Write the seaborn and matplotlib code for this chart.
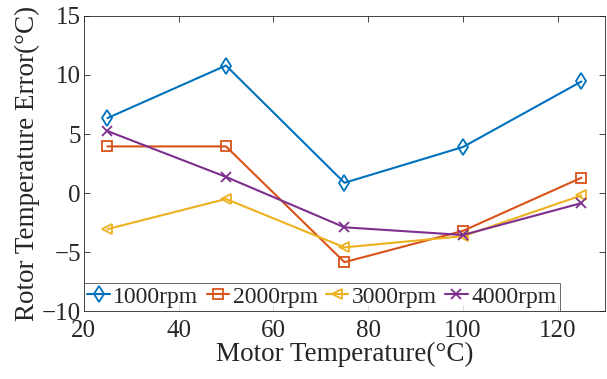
import numpy as np
import pandas as pd
import matplotlib
matplotlib.use("Agg")
import matplotlib.pyplot as plt
import seaborn as sns

motor_temp = [25, 50, 75, 100, 125]
err_1000 = [6.35, 10.8, 0.87, 3.9, 9.45]
err_2000 = [3.95, 3.95, -5.85, -3.2, 1.3]
err_3000 = [-3.05, -0.5, -4.6, -3.65, -0.2]
err_4000 = [5.25, 1.37, -2.9, -3.55, -0.85]
series_names = ["1000rpm", "2000rpm", "3000rpm", "4000rpm"]
colors = ["#0072BD", "#D95319", "#EDB120", "#7E2F8E"]
markers = ["d", "s", "<", "x"]
marker_sizes = [8.5, 6.5, 7.5, 7]

sns.set_style("ticks")
plt.rcParams["font.family"] = ["Liberation Serif", "DejaVu Serif"]
plt.rcParams["mathtext.fontset"] = "stix"

fig = plt.figure(figsize=(6.07, 3.79), dpi=100)
ax = fig.add_axes([0.138, 0.179, 0.859, 0.779])

all_series = [err_1000, err_2000, err_3000, err_4000]
for name, vals, c, m in zip(series_names, all_series, colors, markers):
    df = pd.DataFrame({"x": motor_temp, "y": vals})
    sns.lineplot(data=df, x="x", y="y", ax=ax, color=c, marker=m, legend=False,
                 linewidth=1.5, label=name)

for line, c, ms in zip(ax.lines, colors, marker_sizes):
    line.set_markerfacecolor("none")
    line.set_markeredgecolor(c)
    line.set_markeredgewidth(1.3)
    line.set_markersize(ms)

ax.set_xlim(20, 130)
ax.set_ylim(-10, 15)
ax.set_xticks([20, 40, 60, 80, 100, 120])
ax.set_yticks([-10, -5, 0, 5, 10, 15])
ax.set_xlabel("Motor Temperature(°C)", fontsize=19.5, labelpad=0)
ax.set_ylabel("Rotor Temperature Error(°C)", fontsize=19.5, labelpad=1)
ax.tick_params(direction="in", top=True, right=True, labelsize=18, length=4,
               width=0.6, colors="#262626")
ax.tick_params(axis="x", pad=6.5)
ax.tick_params(axis="y", pad=2)
for s in ax.spines.values():
    s.set_visible(True)
    s.set_color("#262626")
    s.set_linewidth(0.6)

leg = ax.legend(ax.lines, series_names, loc="lower left", ncol=4, fontsize=17,
                handlelength=0.95, handletextpad=0.15, columnspacing=0.35,
                borderpad=0.15, borderaxespad=0, frameon=True, fancybox=False,
                edgecolor="#262626")
leg.get_frame().set_linewidth(0.6)

fig.savefig("out.png", dpi=100)
